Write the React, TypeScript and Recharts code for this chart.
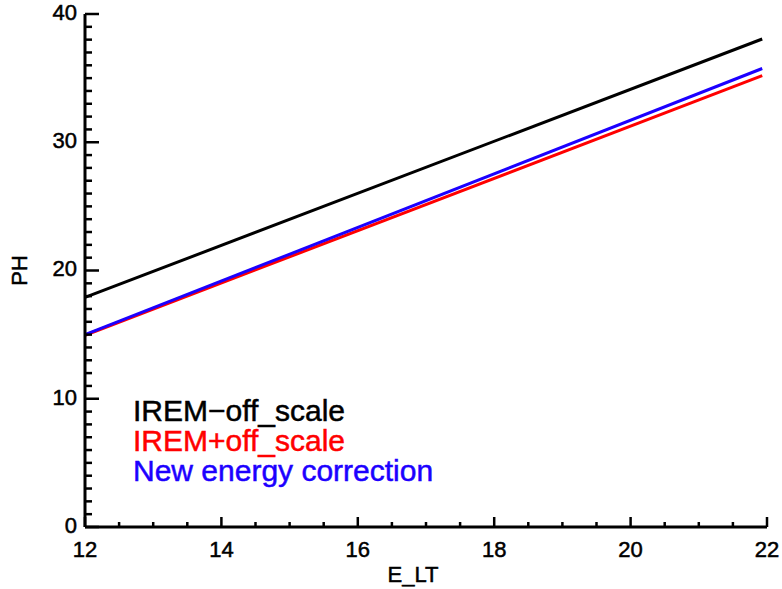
import { LineChart, Line, XAxis, YAxis, Legend } from "recharts";

// E_LT sample positions and the PH response of each calibration
const E_LT = [12, 21.93];
const PH_OFF_SCALE_MINUS = [17.9, 38.05];
const PH_OFF_SCALE_PLUS = [14.95, 35.2];
const PH_NEW_CORRECTION = [15.0, 35.75];

const SERIES_NAMES = ["IREM−off_scale", "IREM+off_scale", "New energy correction"];

const X_TICKS = [12, 12.5, 13, 13.5, 14, 14.5, 15, 15.5, 16, 16.5, 17, 17.5, 18, 18.5, 19, 19.5, 20, 20.5, 21, 21.5, 22];
const X_MAJOR = [12, 14, 16, 18, 20, 22];
const Y_TICKS = [
  0, 1, 2, 3, 4, 5, 6, 7, 8, 9, 10, 11, 12, 13, 14, 15, 16, 17, 18, 19, 20,
  21, 22, 23, 24, 25, 26, 27, 28, 29, 30, 31, 32, 33, 34, 35, 36, 37, 38, 39, 40,
];
const Y_MAJOR = [0, 10, 20, 30, 40];

const FONT = "'Liberation Sans', Arial, Helvetica, sans-serif";
const INK = "#000";

const data = E_LT.map((x, i) => ({
  x,
  minus: PH_OFF_SCALE_MINUS[i],
  plus: PH_OFF_SCALE_PLUS[i],
  fresh: PH_NEW_CORRECTION[i],
}));

// slightly heavier glyphs than plain Liberation regular
const textProps = {
  fontSize: 22,
  fontFamily: FONT,
  fill: INK,
  stroke: INK,
  strokeWidth: 0.5,
};

// ticks are drawn inward like an IDL plot box; majors are twice as long
const xTick = (side: "bottom" | "top") => (props: any) => {
  const { x, y, payload } = props;
  const major = X_MAJOR.includes(payload.value);
  const len = major ? 10 : 5;
  const dir = side === "bottom" ? -1 : 1;
  return (
    <g>
      <line x1={x} x2={x} y1={y} y2={y + dir * len} stroke={INK} strokeWidth={2.5} />
      {side === "bottom" && major && (
        <text x={x} y={y + 24} textAnchor="middle" dominantBaseline="middle" {...textProps}>
          {payload.value}
        </text>
      )}
    </g>
  );
};

const yTick = (side: "left" | "right") => (props: any) => {
  const { x, y, payload } = props;
  const major = Y_MAJOR.includes(payload.value);
  const len = major ? 14 : 7;
  const dir = side === "left" ? 1 : -1;
  return (
    <g>
      <line x1={x} x2={x + dir * len} y1={y} y2={y} stroke={INK} strokeWidth={2.5} />
      {side === "left" && major && (
        <text x={x - 8} y={y} textAnchor="end" dominantBaseline="middle" {...textProps}>
          {payload.value}
        </text>
      )}
    </g>
  );
};

const axisLine = { stroke: INK, strokeWidth: 3 };

function LegendBlock({ payload }: any) {
  const items = [...(payload || [])].sort(
    (a: any, b: any) => SERIES_NAMES.indexOf(a.value) - SERIES_NAMES.indexOf(b.value)
  );
  return (
    <div style={{ fontFamily: FONT, fontSize: 30, lineHeight: "30px" }}>
      {items.map((p: any) => (
        <div
          key={p.value}
          style={{ color: p.color, whiteSpace: "nowrap", WebkitTextStroke: `0.5px ${p.color}` }}
        >
          {p.value}
        </div>
      ))}
    </div>
  );
}

export default function App() {
  return (
    <div style={{ width: 782, height: 589, background: "#fff" }}>
      <style>{"body{margin:0}"}</style>
      <LineChart width={782} height={589} data={data} margin={{ top: 14, right: 15, bottom: 0, left: 0 }}>
        <XAxis
          xAxisId="b"
          dataKey="x"
          type="number"
          domain={[12, 22]}
          ticks={X_TICKS}
          interval={0}
          height={62}
          tickSize={0}
          tickMargin={0}
          tickLine={false}
          axisLine={axisLine}
          tick={xTick("bottom")}
          label={{
            value: "E_LT",
            content: ({ viewBox }: any) => (
              <text
                x={viewBox.x + viewBox.width / 2 - 13}
                y={viewBox.y + 49}
                textAnchor="middle"
                dominantBaseline="middle"
                {...textProps}
              >
                E_LT
              </text>
            ),
          }}
        />
        <XAxis
          xAxisId="t"
          orientation="top"
          dataKey="x"
          type="number"
          domain={[12, 22]}
          ticks={X_TICKS}
          interval={0}
          height={0}
          tickSize={0}
          tickMargin={0}
          tickLine={false}
          axisLine={axisLine}
          tick={xTick("top")}
        />
        <YAxis
          yAxisId="l"
          type="number"
          domain={[0, 40]}
          ticks={Y_TICKS}
          interval={0}
          width={85}
          tickSize={0}
          tickMargin={0}
          tickLine={false}
          axisLine={axisLine}
          tick={yTick("left")}
          label={{
            value: "PH",
            content: ({ viewBox }: any) => (
              <text
                x={21}
                y={viewBox.y + viewBox.height / 2}
                transform={`rotate(-90 21 ${viewBox.y + viewBox.height / 2})`}
                textAnchor="middle"
                dominantBaseline="middle"
                {...textProps}
              >
                PH
              </text>
            ),
          }}
        />
        <YAxis
          yAxisId="r"
          orientation="right"
          type="number"
          domain={[0, 40]}
          ticks={Y_TICKS}
          interval={0}
          width={0}
          tickSize={0}
          tickMargin={0}
          tickLine={false}
          axisLine={axisLine}
          tick={yTick("right")}
        />
        <Legend
          layout="vertical"
          verticalAlign="middle"
          align="center"
          wrapperStyle={{ left: 133, top: 396, width: "auto" }}
          content={<LegendBlock />}
        />
        <Line
          xAxisId="b"
          yAxisId="l"
          dataKey="minus"
          name={SERIES_NAMES[0]}
          stroke="#000000"
          strokeWidth={3}
          dot={false}
          isAnimationActive={false}
        />
        <Line
          xAxisId="b"
          yAxisId="l"
          dataKey="plus"
          name={SERIES_NAMES[1]}
          stroke="#ff0000"
          strokeWidth={3}
          dot={false}
          isAnimationActive={false}
        />
        <Line
          xAxisId="b"
          yAxisId="l"
          dataKey="fresh"
          name={SERIES_NAMES[2]}
          stroke="#1c00ff"
          strokeWidth={3}
          dot={false}
          isAnimationActive={false}
        />
      </LineChart>
    </div>
  );
}
